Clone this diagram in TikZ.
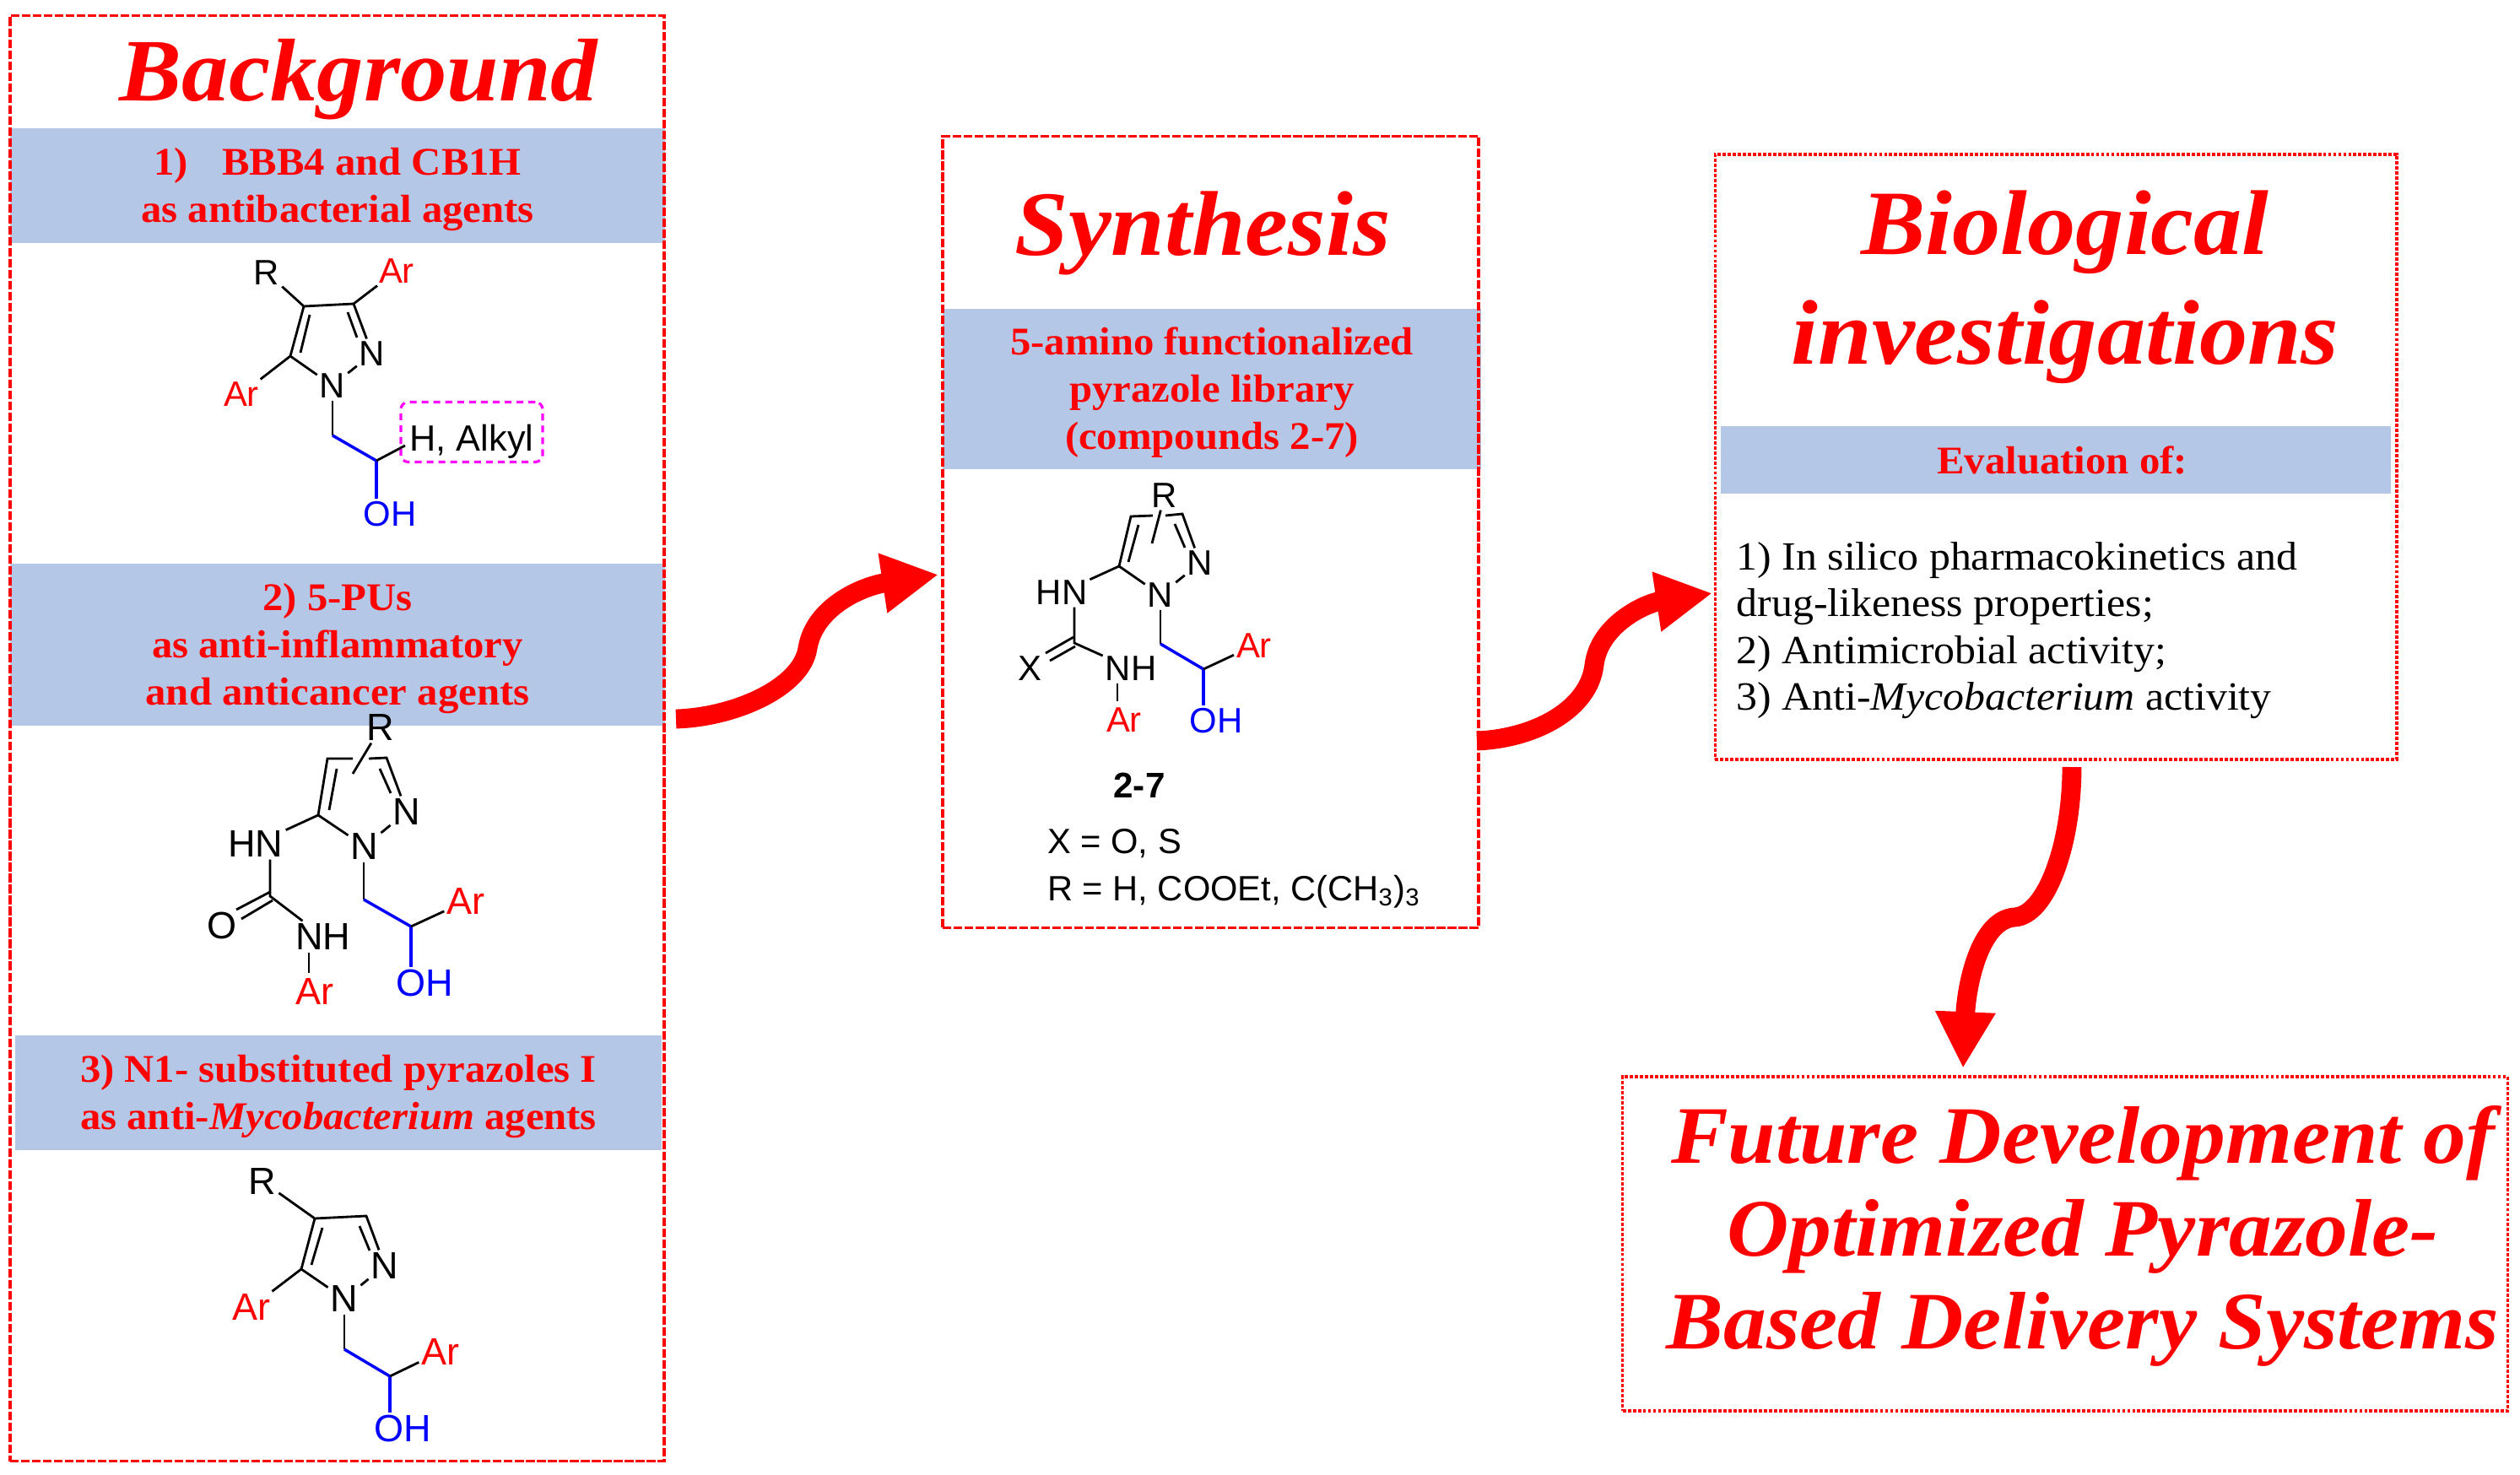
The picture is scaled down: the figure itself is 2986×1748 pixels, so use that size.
\documentclass[tikz,border=0pt]{standalone}
\usepackage{fontspec}
\setmainfont[FakeStretch=1.05]{Liberation Serif}
\setsansfont{Liberation Sans}
\usetikzlibrary{arrows.meta}
\definecolor{bandblue}{HTML}{B4C7E7}
\definecolor{boxmagenta}{HTML}{FF00FF}
\newcommand{\bandskip}{\rule{0pt}{11.7pt}}
\tikzset{
  title/.style={text=red, align=center, font=\fontsize{31}{36}\selectfont\bfseries\itshape, inner sep=0pt},
  band/.style={fill=bandblue, text=red, align=center, inner sep=0pt, font=\fontsize{13.2}{16}\selectfont\bfseries},
  dashbox/.style={draw=red, line width=1pt, dash pattern=on 2.9pt off 0.8pt},
  dotbox/.style={draw=red, line width=1pt, dash pattern=on 1.1pt off 0.6pt},
  atom/.style={inner sep=0.7pt, font=\sffamily\fontsize{11.9}{13}\selectfont},
  bigatom/.style={inner sep=0.7pt, font=\sffamily\fontsize{12.8}{14}\selectfont},
  bond/.style={line width=0.8pt},
  bluebond/.style={draw=blue, line width=1pt},
  curvearrow/.style={draw=red, line width=6.5pt, -{Triangle[length=19pt, width=19pt]}}
}
\begin{document}
\begin{tikzpicture}[x=0.01cm, y=-0.01cm]
  \useasboundingbox (0,0) rectangle (2986,1748);

  \node[band, minimum width=7.75cm, minimum height=1.36cm] (BandOne) at (400,220) {\bandskip 1)\hspace{0.87em}BBB4 and CB1H\\as antibacterial agents};
  \node[band, minimum width=7.75cm, minimum height=1.92cm] (BandTwo) at (400,764) {\bandskip 2) 5-PUs\\as anti-inflammatory\\and anticancer agents};
  \node[band, minimum width=7.65cm, minimum height=1.35cm] (BandThree) at (401,1295) {\bandskip 3) N1- substituted pyrazoles I\\as anti-\textit{Mycobacterium} agents};
  \node[band, minimum width=6.38cm, minimum height=1.90cm] (BandSynthesis) at (1436,461) {\bandskip 5-amino functionalized\\pyrazole library\\(compounds 2-7)};
  \node[band, minimum width=7.94cm, minimum height=0.80cm] (BandEvaluation) at (2436,545) {\hspace*{4.4pt}Evaluation of:};

  \node[dashbox, minimum width=7.75cm, minimum height=17.12cm] (BackgroundBox) at (399.5,875) {};
  \node[dashbox, minimum width=6.35cm, minimum height=9.37cm] (SynthesisBox) at (1434.5,630.5) {};
  \node[dotbox, minimum width=8.07cm, minimum height=7.17cm] (BiologicalBox) at (2436,541.5) {};
  \node[dotbox, minimum width=10.48cm, minimum height=3.96cm] (FutureBox) at (2447,1474) {};

  \node[title, font=\fontsize{30}{36}\selectfont\bfseries\itshape] (Background) at (425,94) {Background};
  \node[title] (Synthesis) at (1425,276) {Synthesis};
  \node[title] (Biological) at (2447,340) {Biological\\[0.9pt]investigations};
  \node[title, font=\fontsize{27.5}{31.3}\selectfont\bfseries\itshape] (Future) at (2468,1465) {Future Development of\\Optimized Pyrazole-\\Based Delivery Systems};
  \node[anchor=north west, inner sep=0pt, align=left, font=\fontsize{13.5}{15.7}\selectfont] (Evaluation) at (2057,642) {1) In silico pharmacokinetics and\\drug-likeness properties;\\2) Antimicrobial activity;\\3) Anti-\textit{Mycobacterium} activity};

  \coordinate (AC3) at (419,360);
  \coordinate (AC4) at (360,363);
  \coordinate (AC5) at (344,422);
  \coordinate (AC4in) at (367,373);
  \coordinate (AC5in) at (356,418);
  \coordinate (AC3in) at (412,370);
  \coordinate (AN2in) at (423,400);
  \coordinate (ACH2) at (394,516);
  \coordinate (ACHOH) at (446,546);
  \coordinate (AAlkyl) at (480,528);
  \node[atom] (AR) at (316,323) {R};
  \node[atom, text=red] (AArOne) at (470,321) {Ar};
  \node[atom, text=red] (AArTwo) at (286,467) {Ar};
  \node[atom] (AN1) at (394,457) {N};
  \node[atom] (AN2) at (441,419) {N};
  \node[atom, text=blue] (AOH) at (462,609) {OH};
  \node[atom, draw=boxmagenta, line width=0.9pt, dash pattern=on 2.3pt off 1.7pt, rounded corners=2.5pt, minimum width=1.68cm, minimum height=0.71cm, font=\sffamily\fontsize{12.3}{14}\selectfont] (AAlkylBox) at (559,512) {\raisebox{-6.3pt}[0pt][0pt]{H, Alkyl}};
  \draw[bond] (AR) -- (AC4) -- (AC3) -- (AArOne);
  \draw[bond] (AC4) -- (AC5) -- (AN1);
  \draw[bond] (AC5) -- (AArTwo);
  \draw[bond] (AC3) -- (AN2);
  \draw[bond] (AC4in) -- (AC5in);
  \draw[bond] (AC3in) -- (AN2in);
  \draw[bond] (AN1) -- (AN2);
  \draw[bond] (AN1) -- (ACH2);
  \draw[bluebond] (ACH2) -- (ACHOH);
  \draw[bluebond] (ACHOH) -- (ACHOH |- AOH.north);
  \draw[bond] (ACHOH) -- (AAlkyl);

  \coordinate (BC3) at (458,898);
  \coordinate (BC4) at (388,899);
  \coordinate (BC5) at (377,966);
  \coordinate (BGapL) at (418,899);
  \coordinate (BGapR) at (437,899);
  \coordinate (BRend) at (418,917);
  \coordinate (BC4in) at (399,911);
  \coordinate (BC5in) at (390,960);
  \coordinate (BC3in) at (450,911);
  \coordinate (BN2in) at (463,940);
  \coordinate (BCO) at (320,1062);
  \coordinate (BCOa) at (320,1057);
  \coordinate (BCOb) at (323,1067);
  \coordinate (BOa) at (280,1078);
  \coordinate (BOb) at (286,1089);
  \coordinate (BCH2) at (431,1066);
  \coordinate (BCHOH) at (487,1098);
  \coordinate (BArTop) at (366,1153);
  \node[bigatom] (BR) at (451,862) {R};
  \node[bigatom] (BN1) at (432,1003) {N};
  \node[bigatom] (BN2) at (482,962) {N};
  \node[bigatom] (BHN) at (303,1000) {HN};
  \node[bigatom] (BO) at (263,1097) {O};
  \node[bigatom] (BNH) at (383,1110) {NH};
  \node[bigatom, text=red] (BArOne) at (373,1175) {Ar};
  \node[bigatom, text=red] (BArTwo) at (552,1068) {Ar};
  \node[bigatom, text=blue] (BOH) at (503,1165) {OH};
  \draw[bond] (BGapL) -- (BC4) -- (BC5) -- (BN1);
  \draw[bond] (BGapR) -- (BC3) -- (BN2);
  \draw[bond] (BR) -- (BRend);
  \draw[bond] (BC4in) -- (BC5in);
  \draw[bond] (BC3in) -- (BN2in);
  \draw[bond] (BN1) -- (BN2);
  \draw[bond] (BC5) -- (BHN);
  \draw[bond] (BCO |- BHN.south) -- (BCO) -- (BNH);
  \draw[bond] (BCOa) -- (BOa);
  \draw[bond] (BCOb) -- (BOb);
  \draw[bond] (BArTop |- BNH.south) -- (BArTop);
  \draw[bond] (BCH2 |- BN1.south) -- (BCH2);
  \draw[bluebond] (BCH2) -- (BCHOH);
  \draw[bluebond] (BCHOH) -- (BCHOH |- BOH.north);
  \draw[bond] (BCHOH) -- (BArTwo);

  \coordinate (CC3) at (434,1441);
  \coordinate (CC4) at (373,1444);
  \coordinate (CC5) at (357,1504);
  \coordinate (CC4in) at (382,1455);
  \coordinate (CC5in) at (369,1499);
  \coordinate (CC3in) at (426,1453);
  \coordinate (CN2in) at (438,1482);
  \coordinate (CCH2) at (408,1599);
  \coordinate (CCHOH) at (462,1631);
  \node[bigatom] (CR) at (311,1400) {R};
  \node[bigatom] (CN1) at (408,1539) {N};
  \node[bigatom] (CN2) at (456,1500) {N};
  \node[bigatom, text=red] (CArOne) at (298,1549) {Ar};
  \node[bigatom, text=red] (CArTwo) at (522,1602) {Ar};
  \node[bigatom, text=blue] (COH) at (477,1693) {OH};
  \draw[bond] (CR) -- (CC4) -- (CC3) -- (CN2);
  \draw[bond] (CC4) -- (CC5) -- (CN1);
  \draw[bond] (CC5) -- (CArOne);
  \draw[bond] (CC4in) -- (CC5in);
  \draw[bond] (CC3in) -- (CN2in);
  \draw[bond] (CN1) -- (CN2);
  \draw[bond] (CN1) -- (CCH2);
  \draw[bluebond] (CCH2) -- (CCHOH);
  \draw[bluebond] (CCHOH) -- (CCHOH |- COH.north);
  \draw[bond] (CCHOH) -- (CArTwo);

  \coordinate (DC3) at (1401,609);
  \coordinate (DC4) at (1340,612);
  \coordinate (DC5) at (1326,671);
  \coordinate (DGapL) at (1366,611);
  \coordinate (DGapR) at (1381,611);
  \coordinate (DRend) at (1365,644);
  \coordinate (DC4in) at (1349,622);
  \coordinate (DC5in) at (1337,666);
  \coordinate (DC3in) at (1392,621);
  \coordinate (DN2in) at (1404,649);
  \coordinate (DCX) at (1273,762);
  \coordinate (DCXa) at (1272,755);
  \coordinate (DCXb) at (1274,766);
  \coordinate (DXa) at (1239,774);
  \coordinate (DXb) at (1244,783);
  \coordinate (DCH2) at (1375,763);
  \coordinate (DCHOH) at (1426,793);
  \coordinate (DArTop) at (1324,831);
  \node[atom] (DR) at (1380,587) {R};
  \node[atom] (DN1) at (1375,705) {N};
  \node[atom] (DN2) at (1422,667) {N};
  \node[atom] (DHN) at (1258,702) {HN};
  \node[atom] (DX) at (1220,792) {X};
  \node[atom] (DNH) at (1340,792) {NH};
  \node[atom, text=red] (DArOne) at (1332,853) {Ar};
  \node[atom, text=red] (DArTwo) at (1486,765) {Ar};
  \node[atom, text=blue] (DOH) at (1441,854) {OH};
  \node[atom, font=\sffamily\bfseries\fontsize{12}{13}\selectfont] (DLabel) at (1350,931) {2-7};
  \node[atom, anchor=north west, align=left, font=\sffamily\fontsize{11.85}{15.9}\selectfont] (DKey) at (1238,979) {X = O, S\\R = H, COOEt, C(CH\textsubscript{3})\textsubscript{3}};
  \draw[bond] (DGapL) -- (DC4) -- (DC5) -- (DN1);
  \draw[bond] (DGapR) -- (DC3) -- (DN2);
  \draw[bond] (DR) -- (DRend);
  \draw[bond] (DC4in) -- (DC5in);
  \draw[bond] (DC3in) -- (DN2in);
  \draw[bond] (DN1) -- (DN2);
  \draw[bond] (DC5) -- (DHN);
  \draw[bond] (DCX |- DHN.south) -- (DCX) -- (DNH);
  \draw[bond] (DCXa) -- (DXa);
  \draw[bond] (DCXb) -- (DXb);
  \draw[bond] (DArTop |- DNH.south) -- (DArTop);
  \draw[bond] (DN1) -- (DCH2);
  \draw[bluebond] (DCH2) -- (DCHOH);
  \draw[bluebond] (DCHOH) -- (DCHOH |- DOH.north);
  \draw[bond] (DCHOH) -- (DArTwo);

  \coordinate (ArrowOneStart) at (801,852);
  \coordinate (ArrowOneEnd) at (1112,681);
  \coordinate (ArrowTwoStart) at (1750,878);
  \coordinate (ArrowTwoEnd) at (2029,703);
  \coordinate (ArrowThreeStart) at (2455,909);
  \coordinate (ArrowThreeEnd) at (2326,1266);
  \draw[curvearrow] (ArrowOneStart) .. controls (870,850) and (950,815) .. (957,768) .. controls (965,720) and (1020,695) .. (ArrowOneEnd);
  \draw[curvearrow] (ArrowTwoStart) .. controls (1820,875) and (1883,840) .. (1889,788) .. controls (1895,740) and (1950,715) .. (ArrowTwoEnd);
  \draw[curvearrow] (ArrowThreeStart) .. controls (2455,1000) and (2425,1085) .. (2387,1087) .. controls (2345,1090) and (2330,1170) .. (ArrowThreeEnd);
\end{tikzpicture}
\end{document}
